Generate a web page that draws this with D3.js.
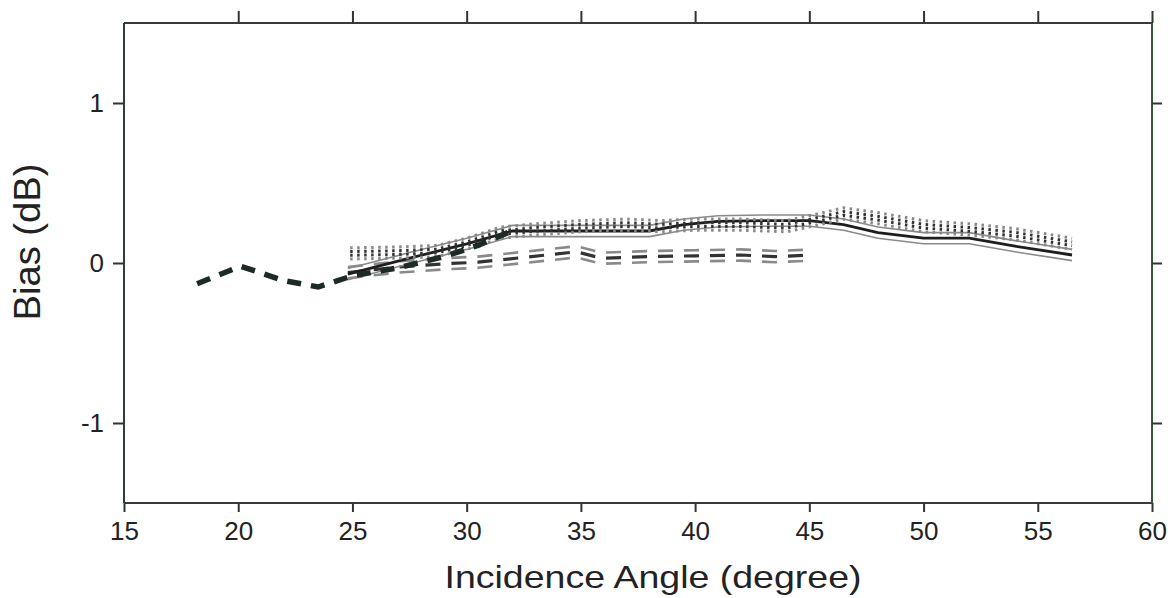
<!DOCTYPE html>
<html>
<head>
<meta charset="utf-8">
<script src="https://cdn.jsdelivr.net/npm/d3@7"></script>
<style>
  body { margin: 0; background: #fff; }
  svg { display: block; font-family: "Liberation Sans", Arial, sans-serif; }
</style>
</head>
<body>
<svg id="chart" width="1174" height="598"></svg>
<script>
// axis ticks
const xTicks = [15, 20, 25, 30, 35, 40, 45, 50, 55, 60];
const yTicks = [-1, 0, 1];

// thick dashed curve (low angles)
const thickX = [18.2, 20.1, 22, 23.5, 25, 27, 29, 30.5, 31.8];
const thickY = [-0.13, -0.02, -0.11, -0.15, -0.08, -0.03, 0.04, 0.11, 0.19];

// solid band
const solidX = [24.8, 27.5, 30, 32, 35, 38, 39.5, 41, 43, 45, 46.5, 48, 50, 52, 54, 56.5];
const solidY = [-0.07, 0.03, 0.12, 0.2, 0.2, 0.2, 0.24, 0.26, 0.265, 0.265, 0.24, 0.19, 0.155, 0.155, 0.105, 0.05];
const solidSpread = 0.035;

// dashed band
const dashedX = [24.8, 27, 29, 30.5, 32.5, 34.8, 35.9, 38, 40, 42, 43.5, 45.2];
const dashedY = [-0.06, -0.025, -0.005, 0.005, 0.035, 0.07, 0.03, 0.04, 0.045, 0.05, 0.04, 0.05];
const dashedSpread = 0.035;

// dotted band
const dottedX = [24.9, 27, 28.7, 30, 31.5, 33, 35, 37, 38.5, 40, 42, 44, 45.3, 46.5, 48, 50, 52, 54, 56.5];
const dottedY = [0.06, 0.065, 0.075, 0.12, 0.19, 0.21, 0.23, 0.24, 0.23, 0.24, 0.24, 0.23, 0.27, 0.31, 0.28, 0.23, 0.21, 0.18, 0.12];
const dottedSpread = 0.035;

const svg = d3.select("#chart");
const x = d3.scaleLinear().domain([15, 60]).range([124, 1152]);
const y = d3.scaleLinear().domain([-1.5, 1.5]).range([503, 23]);

const line = d3.line().x(d => x(d[0])).y(d => y(d[1]));
function pts(xs, ys, off) {
    return xs.map((v, i) => [v, ys[i] + (off || 0)]);
}
const fmt = d => String(d);

// frame
svg.append("line").attr("x1", x(15)).attr("x2", x(60)).attr("y1", y(1.5)).attr("y2", y(1.5))
    .attr("stroke", "#3a3a3a").attr("stroke-width", 2.2);
svg.append("line").attr("x1", x(15)).attr("x2", x(60)).attr("y1", y(-1.5)).attr("y2", y(-1.5))
    .attr("stroke", "#3a3a3a").attr("stroke-width", 2);
svg.append("line").attr("x1", x(15)).attr("x2", x(15)).attr("y1", y(1.5)).attr("y2", y(-1.5))
    .attr("stroke", "#2f3f33").attr("stroke-width", 2);
svg.append("line").attr("x1", x(60)).attr("x2", x(60)).attr("y1", y(1.5)).attr("y2", y(-1.5))
    .attr("stroke", "#2f5a3a").attr("stroke-width", 2);

// axes (ticks outside on all four sides)
const axBottom = svg.append("g").attr("transform", "translate(0," + y(-1.5) + ")")
    .call(d3.axisBottom(x).tickValues(xTicks).tickSize(9).tickPadding(10).tickFormat(fmt));
const axTop = svg.append("g").attr("transform", "translate(0," + y(1.5) + ")")
    .call(d3.axisTop(x).tickValues(xTicks.slice(1)).tickSize(12).tickFormat(""));
const axLeft = svg.append("g").attr("transform", "translate(" + x(15) + ",0)")
    .call(d3.axisLeft(y).tickValues(yTicks).tickSize(11).tickPadding(9).tickFormat(fmt));
const axRight = svg.append("g").attr("transform", "translate(" + x(60) + ",0)")
    .call(d3.axisRight(y).tickValues(yTicks).tickSize(10).tickFormat(""));

[axBottom, axTop, axLeft, axRight].forEach(g => {
    g.select(".domain").remove();
    g.selectAll(".tick line").attr("stroke", "#333").attr("stroke-width", 2);
    g.selectAll("text").attr("fill", "#222").style("font-size", "26px");
});

// axis titles
svg.append("text").attr("x", 653).attr("y", 588).attr("text-anchor", "middle")
    .attr("textLength", 417).attr("lengthAdjust", "spacingAndGlyphs")
    .style("font-size", "32px").attr("fill", "#222").text("Incidence Angle (degree)");
svg.append("text").attr("transform", "translate(40,242) rotate(-90)").attr("text-anchor", "middle")
    .attr("textLength", 157).attr("lengthAdjust", "spacingAndGlyphs")
    .style("font-size", "36px").attr("fill", "#222").text("Bias  (dB)");

const plot = svg.append("g");

// dashed band
[[dashedSpread, "#8a8a8a", 2.6], [-dashedSpread, "#8a8a8a", 2.6], [0, "#333", 3.2]].forEach(s => {
    plot.append("path").attr("d", line(pts(dashedX, dashedY, s[0])))
        .attr("fill", "none").attr("stroke", s[1]).attr("stroke-width", s[2])
        .attr("stroke-dasharray", "15,11");
});

// solid band
[[solidSpread, "#8a8a8a", 1.6], [-solidSpread, "#8a8a8a", 1.6], [0, "#1e1e1e", 2.8]].forEach(s => {
    plot.append("path").attr("d", line(pts(solidX, solidY, s[0])))
        .attr("fill", "none").attr("stroke", s[1]).attr("stroke-width", s[2]);
});

// dotted band: stacked dotted lines give vertical tick marks
[[dottedSpread, "#888"], [dottedSpread / 3, "#333"], [-dottedSpread / 3, "#333"], [-dottedSpread, "#888"]].forEach(s => {
    plot.append("path").attr("d", line(pts(dottedX, dottedY, s[0])))
        .attr("fill", "none").attr("stroke", s[1]).attr("stroke-width", 3)
        .attr("stroke-dasharray", "2.5,4.5");
});

// thick dashed curve
plot.append("path").attr("d", line(pts(thickX, thickY)))
    .attr("fill", "none").attr("stroke", "#1e2a24").attr("stroke-width", 5.5)
    .attr("stroke-dasharray", "14,10");
</script>
</body>
</html>
